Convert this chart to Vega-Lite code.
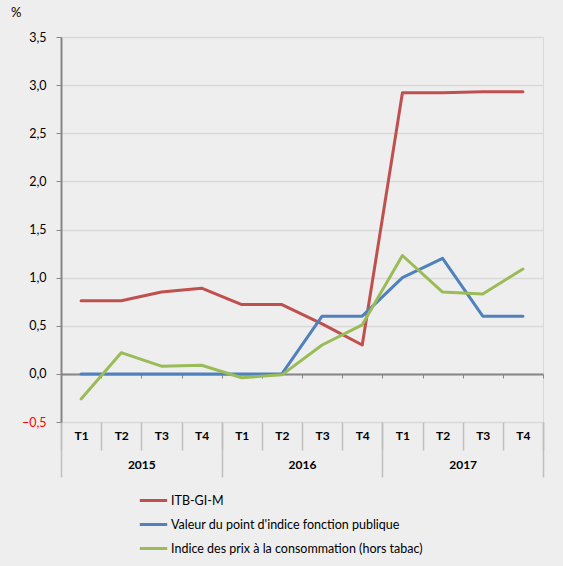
{
  "$schema": "https://vega.github.io/schema/vega-lite/v6.json",
  "autosize": "none",
  "width": 482,
  "height": 385,
  "padding": {"left": 61, "top": 37, "right": 20, "bottom": 144},
  "background": "#eeeeee",
  "config": {
    "font": "Lato",
    "view": {"stroke": "#d9d9d9", "strokeWidth": 1}
  },
  "title": {"text": "%", "anchor": "start", "frame": "group", "dx": -50, "offset": 11, "fontSize": 13, "fontWeight": "normal", "font": "Lato", "color": "#000000"},
  "data": {"values": [
    {"key": "2015-T1", "year": "2015", "series": "ITB-GI-M", "value": 0.76},
    {"key": "2015-T2", "year": "2015", "series": "ITB-GI-M", "value": 0.76},
    {"key": "2015-T3", "year": "2015", "series": "ITB-GI-M", "value": 0.85},
    {"key": "2015-T4", "year": "2015", "series": "ITB-GI-M", "value": 0.89},
    {"key": "2016-T1", "year": "2016", "series": "ITB-GI-M", "value": 0.72},
    {"key": "2016-T2", "year": "2016", "series": "ITB-GI-M", "value": 0.72},
    {"key": "2016-T3", "year": "2016", "series": "ITB-GI-M", "value": 0.52},
    {"key": "2016-T4", "year": "2016", "series": "ITB-GI-M", "value": 0.30},
    {"key": "2017-T1", "year": "2017", "series": "ITB-GI-M", "value": 2.92},
    {"key": "2017-T2", "year": "2017", "series": "ITB-GI-M", "value": 2.92},
    {"key": "2017-T3", "year": "2017", "series": "ITB-GI-M", "value": 2.93},
    {"key": "2017-T4", "year": "2017", "series": "ITB-GI-M", "value": 2.93},
    {"key": "2015-T1", "year": "2015", "series": "Valeur du point d'indice fonction publique", "value": 0},
    {"key": "2015-T2", "year": "2015", "series": "Valeur du point d'indice fonction publique", "value": 0},
    {"key": "2015-T3", "year": "2015", "series": "Valeur du point d'indice fonction publique", "value": 0},
    {"key": "2015-T4", "year": "2015", "series": "Valeur du point d'indice fonction publique", "value": 0},
    {"key": "2016-T1", "year": "2016", "series": "Valeur du point d'indice fonction publique", "value": 0},
    {"key": "2016-T2", "year": "2016", "series": "Valeur du point d'indice fonction publique", "value": 0},
    {"key": "2016-T3", "year": "2016", "series": "Valeur du point d'indice fonction publique", "value": 0.6},
    {"key": "2016-T4", "year": "2016", "series": "Valeur du point d'indice fonction publique", "value": 0.6},
    {"key": "2017-T1", "year": "2017", "series": "Valeur du point d'indice fonction publique", "value": 1.0},
    {"key": "2017-T2", "year": "2017", "series": "Valeur du point d'indice fonction publique", "value": 1.2},
    {"key": "2017-T3", "year": "2017", "series": "Valeur du point d'indice fonction publique", "value": 0.6},
    {"key": "2017-T4", "year": "2017", "series": "Valeur du point d'indice fonction publique", "value": 0.6},
    {"key": "2015-T1", "year": "2015", "series": "Indice des prix à la consommation (hors tabac)", "value": -0.26},
    {"key": "2015-T2", "year": "2015", "series": "Indice des prix à la consommation (hors tabac)", "value": 0.22},
    {"key": "2015-T3", "year": "2015", "series": "Indice des prix à la consommation (hors tabac)", "value": 0.08},
    {"key": "2015-T4", "year": "2015", "series": "Indice des prix à la consommation (hors tabac)", "value": 0.09},
    {"key": "2016-T1", "year": "2016", "series": "Indice des prix à la consommation (hors tabac)", "value": -0.04},
    {"key": "2016-T2", "year": "2016", "series": "Indice des prix à la consommation (hors tabac)", "value": -0.01},
    {"key": "2016-T3", "year": "2016", "series": "Indice des prix à la consommation (hors tabac)", "value": 0.30},
    {"key": "2016-T4", "year": "2016", "series": "Indice des prix à la consommation (hors tabac)", "value": 0.51},
    {"key": "2017-T1", "year": "2017", "series": "Indice des prix à la consommation (hors tabac)", "value": 1.23},
    {"key": "2017-T2", "year": "2017", "series": "Indice des prix à la consommation (hors tabac)", "value": 0.85},
    {"key": "2017-T3", "year": "2017", "series": "Indice des prix à la consommation (hors tabac)", "value": 0.83},
    {"key": "2017-T4", "year": "2017", "series": "Indice des prix à la consommation (hors tabac)", "value": 1.09}
  ]},
  "encoding": {
    "y": {"field": "value", "type": "quantitative",
      "scale": {"domain": [-0.5, 3.5], "nice": false, "zero": false},
      "axis": {"title": null, "values": [-0.5, 0, 0.5, 1, 1.5, 2, 2.5, 3, 3.5], "labelExpr": "replace(format(datum.value, '.1f'), '.', ',')", "labelFontSize": 12.5, "labelFont": "Lato", "labelColor": {"condition": {"test": "datum.value < 0", "value": "#ff0000"}, "value": "#000000"}, "labelPadding": 10, "tickSize": 5, "tickColor": "#868686", "domainColor": "#868686", "domainWidth": 2, "grid": true, "gridColor": "#d9d9d9", "gridWidth": 1.5}}
  },
  "layer": [
    {
      "mark": {"type": "point", "opacity": 0},
      "encoding": {
        "x": {"field": "key", "type": "ordinal", "sort": null,
          "scale": {"type": "band", "paddingInner": 0, "paddingOuter": 0},
          "axis": {"orient": "bottom", "offset": -48, "title": null, "labels": false, "domain": true, "domainColor": "#868686", "domainWidth": 2, "ticks": true, "tickBand": "extent", "tickSize": 4, "tickColor": "#868686", "tickWidth": 1, "grid": false}}
      }
    },
    {
      "mark": {"type": "point", "opacity": 0},
      "encoding": {
        "x": {"field": "year", "type": "ordinal", "sort": null,
          "scale": {"type": "band", "paddingInner": 0, "paddingOuter": 0},
          "axis": {"orient": "bottom", "offset": 0, "title": null, "domain": false, "ticks": true, "tickBand": "extent", "tickSize": 55, "tickColor": "#bfbfbf", "tickWidth": 1.5, "grid": false, "labelAngle": 0, "labelFontSize": 12, "labelFontWeight": "bold", "labelColor": "#000000", "labelPadding": -18, "labelFont": "Lato"}}
      }
    },
    {
      "mark": {"type": "line", "strokeWidth": 3, "strokeCap": "round", "strokeJoin": "round"},
      "encoding": {
        "x": {"field": "key", "type": "ordinal", "sort": null,
          "scale": {"type": "band", "paddingInner": 0, "paddingOuter": 0},
          "axis": {"orient": "bottom", "offset": 0, "title": null, "domain": false, "ticks": true, "tickBand": "extent", "tickSize": 28, "tickColor": "#bfbfbf", "tickWidth": 1.5, "grid": false, "labelAngle": 0, "labelFontSize": 12, "labelFontWeight": "bold", "labelColor": "#000000", "labelPadding": -20, "labelFont": "Lato", "labelExpr": "split(datum.value, '-')[1]"}},
        "color": {"field": "series", "type": "nominal",
          "scale": {"domain": ["ITB-GI-M", "Valeur du point d'indice fonction publique", "Indice des prix à la consommation (hors tabac)"], "range": ["#c0504d", "#4f81bd", "#9bbb59"]},
          "legend": {"title": null, "orient": "none", "legendX": 77, "legendY": 448, "direction": "vertical", "symbolType": "stroke", "symbolSize": 750, "symbolStrokeWidth": 3, "labelFontSize": 12.5, "labelFont": "Lato", "labelColor": "#000000", "labelOffset": 2, "rowPadding": 2, "labelLimit": 400}}
      }
    }
  ],
  "resolve": {"scale": {"x": "independent"}, "axis": {"x": "independent"}}
}
